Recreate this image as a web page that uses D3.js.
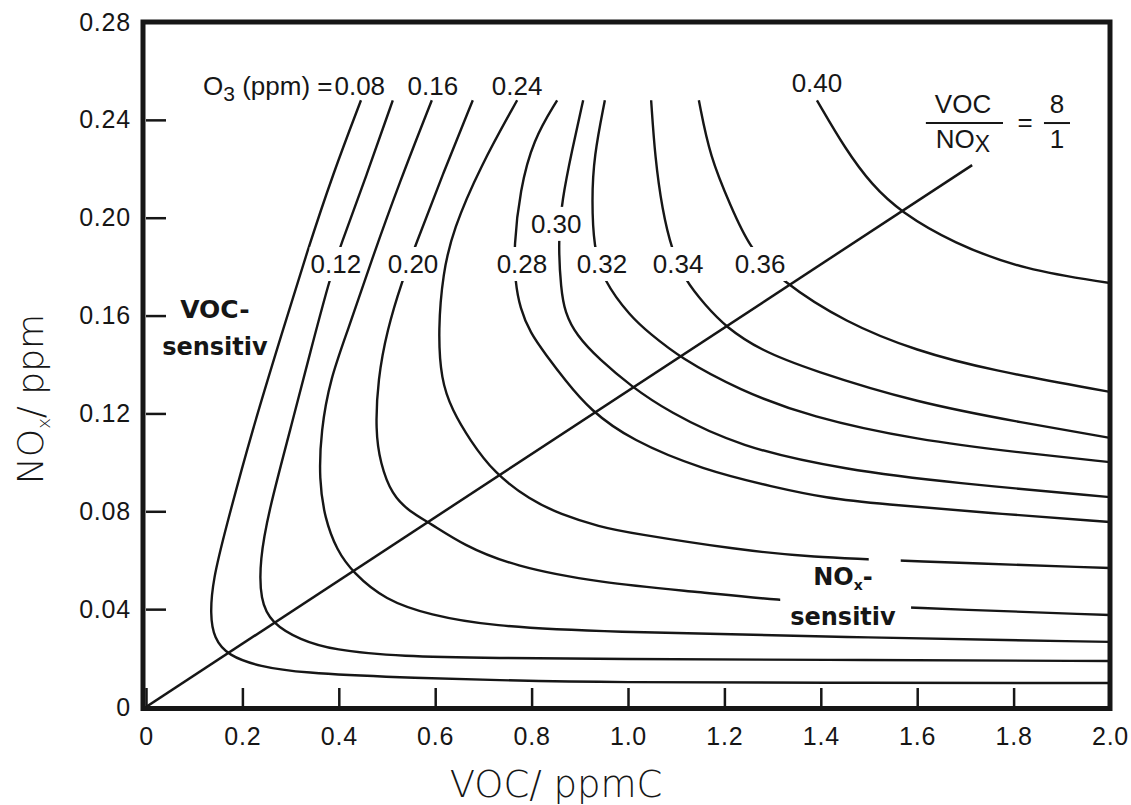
<!DOCTYPE html>
<html><head><meta charset="utf-8">
<script src="https://cdn.jsdelivr.net/npm/d3@7"></script>
<style>
html,body{margin:0;padding:0;background:#fff;}
svg{display:block;}
</style></head><body>
<svg id="chart" width="1131" height="805"></svg>
<script>
// ---------- DATA ----------
const contourLevels = [0.08, 0.12, 0.16, 0.20, 0.24, 0.28, 0.30, 0.32, 0.34, 0.36, 0.40];

// isopleths: [VOC ppmC, NOx ppm]
const iso008 = [[0.446,0.248],[0.388,0.218],[0.334,0.186],[0.284,0.154],[0.220,0.113],[0.164,0.072],[0.139,0.052],[0.133,0.038],[0.141,0.028],[0.170,0.021],[0.237,0.0165],[0.320,0.014],[0.527,0.012],[0.734,0.011],[0.942,0.010],[1.5,0.0099],[2.0,0.0098]];
const iso012 = [[0.512,0.248],[0.459,0.218],[0.402,0.188],[0.380,0.174],[0.342,0.146],[0.299,0.113],[0.255,0.0805],[0.236,0.060],[0.237,0.0437],[0.260,0.0343],[0.320,0.0274],[0.388,0.0233],[0.527,0.0206],[0.734,0.0200],[0.942,0.0196],[1.5,0.0192],[2.0,0.0188]];
const iso016 = [[0.593,0.248],[0.527,0.215],[0.465,0.181],[0.419,0.154],[0.382,0.134],[0.363,0.113],[0.359,0.093],[0.371,0.077],[0.396,0.064],[0.429,0.055],[0.496,0.0437],[0.589,0.0376],[0.714,0.0331],[0.942,0.0307],[1.446,0.0286],[2.0,0.0266]];
const iso020 = [[0.678,0.248],[0.616,0.218],[0.558,0.188],[0.531,0.174],[0.500,0.154],[0.481,0.134],[0.476,0.113],[0.486,0.0997],[0.510,0.0867],[0.548,0.0797],[0.589,0.0752],[0.658,0.0662],[0.761,0.0576],[0.942,0.0507],[1.149,0.0470],[1.324,0.0433],[1.585,0.0405],[2.0,0.0376]];
const iso024 = [[0.770,0.248],[0.693,0.2207],[0.637,0.1950],[0.616,0.1774],[0.606,0.1541],[0.612,0.1337],[0.635,0.1214],[0.672,0.1091],[0.722,0.0957],[0.797,0.0846],[0.859,0.0789],[0.942,0.0736],[1.006,0.0711],[1.230,0.0642],[1.378,0.0613],[1.575,0.0597],[2.0,0.0568]];
const iso028 = [[0.853,0.248],[0.803,0.2318],[0.776,0.2113],[0.763,0.1880],[0.766,0.1737],[0.776,0.1631],[0.797,0.1529],[0.830,0.1439],[0.869,0.1337],[0.921,0.1214],[1.006,0.1091],[1.156,0.0969],[1.303,0.0899],[1.411,0.0854],[1.525,0.0830],[1.749,0.0793],[2.0,0.0756]];
const iso030 = [[0.907,0.248],[0.884,0.2277],[0.863,0.2072],[0.855,0.1901],[0.861,0.1705],[0.869,0.1615],[0.892,0.1521],[0.942,0.1418],[1.006,0.1312],[1.081,0.1210],[1.230,0.1063],[1.452,0.0969],[1.674,0.0916],[2.0,0.0858]];
const iso032 = [[0.952,0.248],[0.929,0.2248],[0.925,0.2072],[0.929,0.1880],[0.948,0.1745],[1.006,0.1594],[1.044,0.1529],[1.108,0.1427],[1.230,0.1296],[1.378,0.1185],[1.600,0.1091],[1.822,0.1038],[2.0,0.1001]];
const iso034 = [[1.048,0.248],[1.056,0.2248],[1.071,0.2032],[1.091,0.1868],[1.118,0.1745],[1.160,0.1643],[1.203,0.1553],[1.274,0.1459],[1.378,0.1378],[1.600,0.1243],[1.822,0.1161],[2.0,0.1100]];
const iso036 = [[1.147,0.248],[1.170,0.2248],[1.214,0.2044],[1.251,0.1880],[1.315,0.1745],[1.452,0.1570],[1.600,0.1455],[1.749,0.1378],[2.0,0.1288]];
const iso040 = [[1.392,0.248],[1.452,0.2277],[1.506,0.2134],[1.566,0.2023],[1.674,0.1897],[1.822,0.1786],[2.0,0.1733]];

// VOC/NOx = 8/1 line
const ratioLine = [[0,0],[1.714,0.2215]];

const xTickValues = [0,0.2,0.4,0.6,0.8,1.0,1.2,1.4,1.6,1.8,2.0];
const yTickValues = [0,0.04,0.08,0.12,0.16,0.20,0.24,0.28];

// label anchor points (data coordinates)
const contourLabelPos = [
  {level:0.12, at:[0.394,0.1774], gap:true},
  {level:0.16, at:[0.595,0.2502], gap:false},
  {level:0.20, at:[0.554,0.1774], gap:true},
  {level:0.24, at:[0.770,0.2502], gap:false},
  {level:0.28, at:[0.780,0.1774], gap:true},
  {level:0.30, at:[0.851,0.1938], gap:true},
  {level:0.32, at:[0.946,0.1774], gap:true},
  {level:0.34, at:[1.104,0.1774], gap:true},
  {level:0.36, at:[1.274,0.1774], gap:true},
  {level:0.40, at:[1.392,0.2514], gap:false}
];

// ---------- CHART ----------
const isoSeries = [iso008, iso012, iso016, iso020, iso024, iso028, iso030, iso032, iso034, iso036, iso040];
const isopleths = contourLevels.map((lv,i)=>({level:lv, pts:isoSeries[i]}));

const FONT = '"Liberation Sans", Arial, Helvetica, sans-serif';
const BOLD = '"DejaVu Sans", Verdana, sans-serif';
const THIN = '"DejaVu Sans ExtraLight", "DejaVu Sans", sans-serif';

const x = d3.scaleLinear().domain([0, 2.0]).range([146, 1110]);
const y = d3.scaleLinear().domain([0, 0.28]).range([707, 22]);

const svg = d3.select('#chart');

svg.append('defs').append('clipPath').attr('id','plot').append('rect')
  .attr('x', x(0)).attr('y', y(0.28)).attr('width', x(2.0)-x(0)).attr('height', y(0)-y(0.28));

const line = d3.line().x(d=>x(d[0])).y(d=>y(d[1])).curve(d3.curveBasis);

const gCurves = svg.append('g').attr('clip-path','url(#plot)');
gCurves.selectAll('path.iso').data(isopleths).join('path')
  .attr('class','iso')
  .attr('d', d=>line(d.pts))
  .attr('fill','none').attr('stroke','#161616').attr('stroke-width',2.4);

gCurves.append('path')
  .attr('d', d3.line().x(d=>x(d[0])).y(d=>y(d[1]))(ratioLine))
  .attr('fill','none').attr('stroke','#161616').attr('stroke-width',2.5);

// axes
const yAxis = d3.axisLeft(y).tickValues(yTickValues)
  .tickFormat(d=> d===0 ? '0' : d3.format('.2f')(d))
  .tickSizeInner(-20).tickSizeOuter(0).tickPadding(15);
const gy = svg.append('g').attr('transform',`translate(${x(0)},0)`).call(yAxis);
gy.select('.domain').remove();
gy.selectAll('.tick line').attr('stroke','#161616').attr('stroke-width',2.5);
gy.selectAll('.tick text').attr('font-family',FONT).attr('font-size',25).attr('fill','#161616')
  .attr('letter-spacing',0.8);

const xAxis = d3.axisBottom(x).tickValues(xTickValues)
  .tickFormat(d=> d===0 ? '0' : d3.format('.1f')(d))
  .tickSizeInner(-19).tickSizeOuter(0).tickPadding(20);
const gx = svg.append('g').attr('transform',`translate(0,${y(0)})`).call(xAxis);
gx.select('.domain').remove();
gx.selectAll('.tick line').attr('stroke','#161616').attr('stroke-width',2.5);
gx.selectAll('.tick text').attr('font-family',FONT).attr('font-size',25).attr('fill','#161616')
  .attr('letter-spacing',0.8);

// frame
svg.append('rect')
  .attr('x', x(0)-3).attr('y', y(0.28))
  .attr('width', x(2.0)-x(0)+3).attr('height', y(0)-y(0.28)+1.5)
  .attr('fill','none').attr('stroke','#161616').attr('stroke-width',5);

// contour labels
const gLab = svg.append('g');
contourLabelPos.forEach(l=>{
  const t = gLab.append('text')
    .attr('x', x(l.at[0])).attr('y', y(l.at[1]))
    .attr('text-anchor','middle')
    .attr('font-family',FONT).attr('font-size',26).attr('fill','#161616')
    .text(d3.format('.2f')(l.level));
  if (l.gap) {
    const b = t.node().getBBox();
    gLab.insert('rect', ()=>t.node())
      .attr('x', b.x-1).attr('y', b.y-2).attr('width', b.width+2).attr('height', b.height+4)
      .attr('fill','#fff');
  }
});

// O3 (ppm) = 0.08
const o3 = svg.append('text')
  .attr('x', x(0.496)).attr('y', y(0.2502)).attr('text-anchor','end')
  .attr('font-family',FONT).attr('font-size',26).attr('fill','#161616');
o3.append('tspan').text('O');
o3.append('tspan').attr('font-size',21).attr('dy',6).text('3');
o3.append('tspan').attr('dy',-6).text(' (ppm) =');
o3.append('tspan').attr('dx',2).text(d3.format('.2f')(contourLevels[0]));

// VOC/NOx = 8/1
const fr = svg.append('g').attr('font-family',FONT).attr('font-size',26).attr('fill','#161616');
fr.append('text').attr('x',x(1.695)).attr('y',y(0.2428)).attr('text-anchor','middle').text('VOC');
const nox = fr.append('text').attr('x',x(1.695)).attr('y',y(0.2285)).attr('text-anchor','middle');
nox.append('tspan').text('NO');
nox.append('tspan').attr('font-size',23).attr('dy',4).text('X');
fr.append('line').attr('x1',x(1.618)).attr('x2',x(1.778)).attr('y1',y(0.2387)).attr('y2',y(0.2387))
  .attr('stroke','#161616').attr('stroke-width',2);
fr.append('text').attr('x',x(1.824)).attr('y',y(0.2355)).attr('text-anchor','middle').text('=');
fr.append('text').attr('x',x(1.890)).attr('y',y(0.2428)).attr('text-anchor','middle').text('8');
fr.append('text').attr('x',x(1.890)).attr('y',y(0.2285)).attr('text-anchor','middle').text('1');
fr.append('line').attr('x1',x(1.863)).attr('x2',x(1.917)).attr('y1',y(0.2387)).attr('y2',y(0.2387))
  .attr('stroke','#161616').attr('stroke-width',2);

// regime labels
const reg = svg.append('g').attr('font-family',BOLD).attr('font-weight','bold').attr('font-size',24)
  .attr('fill','#161616').attr('text-anchor','middle');
reg.append('text').attr('x',x(0.143)).attr('y',y(0.159)).attr('font-size',25).text('VOC-');
reg.append('text').attr('x',x(0.143)).attr('y',y(0.1439)).text('sensitiv');

const n1 = reg.append('text').attr('x',x(1.446)).attr('y',y(0.0499));
n1.append('tspan').text('NO');
n1.append('tspan').attr('font-size',14).attr('dy',5).text('x');
n1.append('tspan').attr('dy',-5).text('-');
const n2 = reg.append('text').attr('x',x(1.446)).attr('y',y(0.0335)).text('sensitiv');
{
  const b2 = n2.node().getBBox();
  reg.insert('rect', ()=>n2.node()).attr('x',b2.x-10).attr('y',b2.y-6)
    .attr('width',b2.width+25).attr('height',b2.height+6).attr('fill','#fff');
  const b1 = n1.node().getBBox();
  reg.insert('rect', ()=>n1.node()).attr('x',b1.x+b1.width-4).attr('y',b1.y-8)
    .attr('width',32).attr('height',16).attr('fill','#fff');
}

// axis titles
svg.append('text').attr('x',556).attr('y',797).attr('text-anchor','middle')
  .attr('font-family',THIN).attr('font-weight',200).attr('font-size',37).attr('fill','#161616')
  .text('VOC/ ppmC');
const yt = svg.append('text').attr('transform','translate(43,399) rotate(-90)').attr('text-anchor','middle')
  .attr('font-family',THIN).attr('font-weight',200).attr('font-size',36).attr('fill','#161616');
yt.append('tspan').text('NO');
yt.append('tspan').attr('font-size',18).attr('dy',7).text('x');
yt.append('tspan').attr('dy',-7).text('/ ppm');
</script>
</body></html>
